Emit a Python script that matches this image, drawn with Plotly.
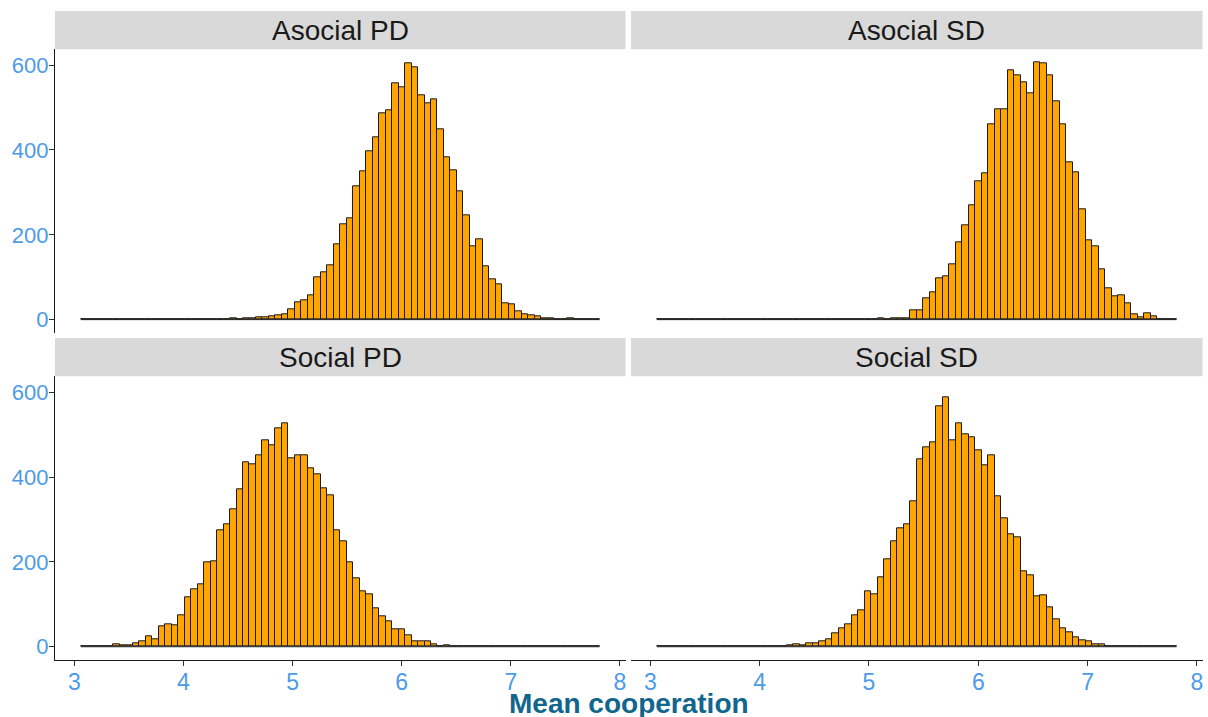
import plotly.graph_objects as go

# ---------------- data (counts per bin, 80 common bins) ----------------
BIN_START = 3.0605
BIN_WIDTH = 0.05941
facet_titles = ["Asocial PD", "Asocial SD", "Social PD", "Social SD"]

asocial_pd = [0]*19 + [
    1, 0, 1, 0, 2, 1, 3, 3, 5, 6, 8,            # 19-29
    10, 12, 25, 42, 45, 57, 100, 112, 129, 177,  # 30-39
    225, 238, 314, 350, 397, 431, 487, 494, 558, 547,  # 40-49
    605, 594, 530, 511, 519, 449, 382, 352, 302, 245,  # 50-59
    174, 189, 126, 96, 83, 39, 37, 20, 13, 11,   # 60-69
    7, 4, 2, 1, 0, 2, 0, 0, 0, 0]                # 70-79

asocial_sd = [0]*30 + [
    1, 0, 1, 1, 3, 1, 3, 4, 4, 23,               # 30-39
    23, 51, 65, 97, 103, 130, 182, 222, 269, 327,  # 40-49
    345, 460, 495, 497, 588, 576, 559, 534, 607, 605,  # 50-59
    575, 514, 461, 372, 348, 259, 187, 173, 119, 75,   # 60-69
    54, 58, 39, 13, 6, 15, 7, 1, 1, 1]           # 70-79

social_pd = [
    1, 0, 1, 1, 2, 6, 4, 4, 9, 13,               # 0-9
    25, 17, 47, 52, 51, 73, 116, 136, 148, 198,  # 10-19
    201, 274, 289, 324, 370, 434, 430, 452, 487, 475,  # 20-29
    515, 527, 443, 452, 452, 420, 407, 373, 358, 274,  # 30-39
    248, 200, 162, 131, 123, 90, 71, 59, 42, 42,  # 40-49
    27, 13, 13, 13, 6, 2, 3, 1, 1, 0] + [0]*20   # 50-79

social_sd = [0]*14 + [
    1, 0, 0, 1, 2, 2,                            # 14-19
    3, 5, 4, 8, 7, 12, 17, 32, 43, 53,           # 20-29
    74, 87, 131, 123, 163, 205, 249, 280, 289, 342,  # 30-39
    441, 469, 482, 566, 588, 486, 527, 500, 493, 463,  # 40-49
    427, 452, 355, 302, 266, 258, 178, 169, 118, 122,  # 50-59
    92, 64, 44, 33, 23, 14, 12, 5, 6, 1,         # 60-69
    2, 1, 2, 0, 0, 0, 0, 0, 0, 0]                # 70-79

x_ticks = [3, 4, 5, 6, 7, 8]
y_ticks = [0, 200, 400, 600]
x_title = "Mean cooperation"

# ---------------- layout helpers ----------------
W, H = 1208, 717
def px(x):
    return x / W
def py(y):
    return 1 - y / H

n_bins = len(asocial_pd)
centers = [BIN_START + BIN_WIDTH * (i + 0.5) for i in range(n_bins)]
edge_lo = BIN_START
edge_hi = BIN_START + BIN_WIDTH * n_bins
span = edge_hi - edge_lo
x_range = [edge_lo - 0.05 * span, edge_hi + 0.05 * span]
ymax = max(max(asocial_pd), max(asocial_sd), max(social_pd), max(social_sd))
y_range = [-0.05 * ymax, 1.05 * ymax]

panels_x = [(55, 625.5), (631, 1202.5)]
panels_y = [(49.3, 332.5), (376.3, 659.6)]
strip_y = [(11, 49.3), (338, 376.3)]

series = [asocial_pd, asocial_sd, social_pd, social_sd]
FONT = "Arial, Liberation Sans, sans-serif"

fig = go.Figure()
tick_color = "#4C9BE8"
for i, counts in enumerate(series):
    r, c = divmod(i, 2)
    xa = "x" if i == 0 else f"x{i+1}"
    ya = "y" if i == 0 else f"y{i+1}"
    fig.add_trace(go.Scatter(
        x=[edge_lo, edge_hi], y=[0, 0], mode="lines",
        line=dict(color="#1a1a1a", width=1), hoverinfo="skip",
        showlegend=False, xaxis=xa, yaxis=ya))
    fig.add_trace(go.Bar(
        x=centers, y=counts, width=BIN_WIDTH,
        marker=dict(color="#FFA500", line=dict(color="#1a1a1a", width=1)),
        showlegend=False, xaxis=xa, yaxis=ya))

    xk = "xaxis" if i == 0 else f"xaxis{i+1}"
    yk = "yaxis" if i == 0 else f"yaxis{i+1}"
    x0, x1 = panels_x[c]
    yt, yb = panels_y[r]
    bottom = (r == 1)
    left = (c == 0)
    fig.layout[xk] = dict(
        domain=[px(x0), px(x1)], range=x_range, anchor=ya,
        tickvals=x_ticks, ticktext=[str(t) for t in x_ticks],
        showticklabels=bottom, ticks="outside" if bottom else "",
        ticklen=5, tickwidth=1, tickcolor="#333333",
        ticklabelstandoff=-3,
        showline=bottom, linecolor="#1a1a1a", linewidth=1.1,
        showgrid=False, zeroline=False,
        tickfont=dict(family=FONT, size=23, color=tick_color))
    fig.layout[yk] = dict(
        domain=[py(yb), py(yt)], range=y_range, anchor=xa,
        tickvals=y_ticks, ticktext=[str(t) for t in y_ticks],
        showticklabels=left, ticks="outside" if left else "",
        ticklen=5, tickwidth=1, tickcolor="#333333",
        ticklabelstandoff=-4,
        showline=left, linecolor="#1a1a1a", linewidth=1.1,
        showgrid=False, zeroline=False,
        tickfont=dict(family=FONT, size=22, color=tick_color))

    # strip
    sy0, sy1 = strip_y[r]
    fig.add_shape(type="rect", xref="paper", yref="paper",
                  x0=px(x0), x1=px(x1), y0=py(sy1), y1=py(sy0),
                  fillcolor="#D9D9D9", line=dict(width=0), layer="below")
    fig.add_annotation(xref="paper", yref="paper", x=px((x0 + x1) / 2), y=py((sy0 + sy1) / 2),
                       text=facet_titles[i], showarrow=False,
                       font=dict(family=FONT, size=28, color="#1a1a1a"),
                       xanchor="center", yanchor="middle")

fig.add_annotation(xref="paper", yref="paper", x=px(629), y=py(703),
                   text=f"<b>{x_title}</b>", showarrow=False,
                   font=dict(family=FONT, size=28, color="#10668C"),
                   xanchor="center", yanchor="middle")

fig.update_layout(
    width=W, height=H, margin=dict(l=0, r=0, t=0, b=0),
    paper_bgcolor="white", plot_bgcolor="white",
    bargap=0, barmode="overlay")

fig.write_html("out.html", config={"displayModeBar": False},
               post_script="document.body.style.margin='0px';document.body.style.overflow='hidden';")
